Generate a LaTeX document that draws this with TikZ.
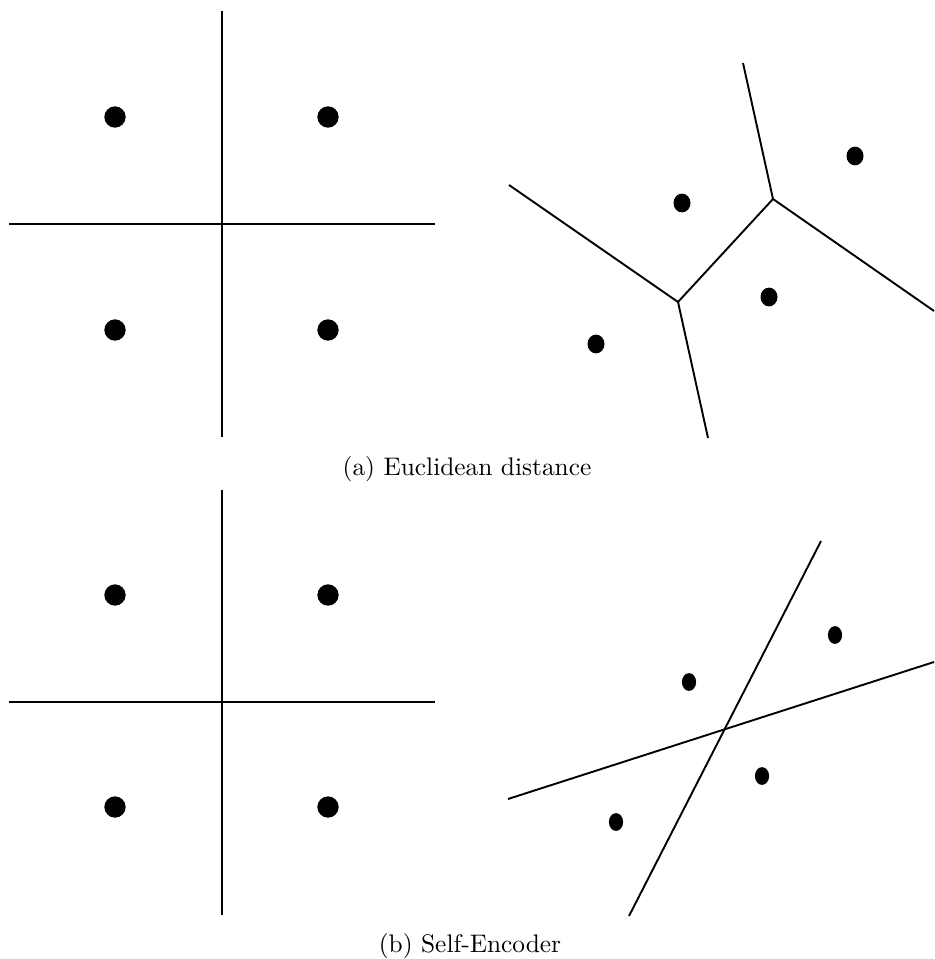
\documentclass[tikz,border=0pt]{standalone}
\usepackage{tikz}
\usetikzlibrary{positioning, calc}

\tikzset{
  splitline/.style={line width=0.9pt},
  cellline/.style={line width=0.75pt},
}

\begin{document}
\begin{tikzpicture}[x=0.394pt, y=-0.394pt]
    \useasboundingbox (0,0) rectangle (934,959);

    % (a) left: axis split
    \draw[splitline] (222,11) -- (222,437);
    \draw[splitline] (9,224) -- (435,224);
    \foreach \px/\py in {115/117, 328/117, 115/330, 328/330}
      \fill (\px,\py) circle[radius=4.2pt];

    % (a) right: voronoi cells
    \coordinate (ja) at (773,199);
    \coordinate (jb) at (678,302);
    \draw[cellline] (743,63) -- (ja) -- (934,311);
    \draw[cellline] (ja) -- (jb);
    \draw[cellline] (509,185) -- (jb) -- (708,438);
    \foreach \px/\py in {682/203, 855/156, 769/297, 596/344}
      \fill (\px,\py) circle[x radius=3.35pt, y radius=3.7pt];

    \node (capa) at (467,469) {(a) Euclidean distance};

    % (b) left: axis split
    \draw[splitline] (222,490) -- (222,915);
    \draw[splitline] (9,702) -- (435,702);
    \foreach \px/\py in {115/595, 328/595, 115/807, 328/807}
      \fill (\px,\py) circle[radius=4.2pt];

    % (b) right: learned split
    \draw[cellline] (821,541) -- (629,916);
    \draw[cellline] (508,799) -- (934,662);
    \foreach \px/\py in {689/682, 835/635, 762/776, 616/822}
      \fill (\px,\py) circle[x radius=2.8pt, y radius=3.5pt];

    \node (capb) at (470,946) {(b) Self-Encoder};
\end{tikzpicture}
\end{document}
